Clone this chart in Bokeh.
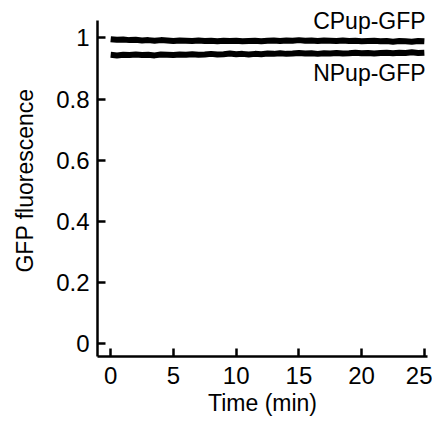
from bokeh.plotting import figure
from bokeh.models import Label, Range1d, FixedTicker
from bokeh.embed import file_html
from bokeh.resources import INLINE

time_min = [0.0, 0.5, 1.0, 1.5, 2.0, 2.5, 3.0, 3.5, 4.0, 4.5, 5.0, 5.5, 6.0, 6.5, 7.0, 7.5,
            8.0, 8.5, 9.0, 9.5, 10.0, 10.5, 11.0, 11.5, 12.0, 12.5, 13.0, 13.5, 14.0, 14.5,
            15.0, 15.5, 16.0, 16.5, 17.0, 17.5, 18.0, 18.5, 19.0, 19.5, 20.0, 20.5, 21.0,
            21.5, 22.0, 22.5, 23.0, 23.5, 24.0, 24.5, 25.0]

cpup_gfp = [0.996, 0.994, 0.995, 0.993, 0.994, 0.992, 0.993, 0.991, 0.993, 0.992, 0.990,
            0.992, 0.991, 0.990, 0.992, 0.990, 0.991, 0.989, 0.991, 0.990, 0.991, 0.989,
            0.990, 0.991, 0.989, 0.991, 0.992, 0.990, 0.992, 0.991, 0.993, 0.991, 0.992,
            0.990, 0.992, 0.991, 0.990, 0.992, 0.990, 0.991, 0.989, 0.990, 0.991, 0.989,
            0.990, 0.988, 0.990, 0.989, 0.988, 0.990, 0.989]

npup_gfp = [0.945, 0.943, 0.945, 0.944, 0.946, 0.944, 0.945, 0.943, 0.946, 0.945, 0.944,
            0.946, 0.945, 0.947, 0.945, 0.946, 0.948, 0.946, 0.947, 0.949, 0.947, 0.948,
            0.946, 0.948, 0.947, 0.949, 0.948, 0.950, 0.948, 0.949, 0.951, 0.949, 0.950,
            0.948, 0.950, 0.949, 0.951, 0.949, 0.950, 0.952, 0.950, 0.951, 0.949, 0.951,
            0.952, 0.950, 0.952, 0.951, 0.953, 0.951, 0.952]

x_ticks = [0, 5, 10, 15, 20, 25]
y_ticks = [0, 0.2, 0.4, 0.6, 0.8, 1]
y_tick_labels = {0: "0", 0.2: "0.2", 0.4: "0.4", 0.6: "0.6", 0.8: "0.8", 1: "1"}

FONT = "Liberation Sans"
TICK_FS = "24px"
LABEL_FS = "23px"

p = figure(width=432, height=418, output_backend="svg", toolbar_location=None,
           x_range=Range1d(-1.05, 25.25), y_range=Range1d(-0.042, 1.1095),
           min_border_left=97, min_border_right=5, min_border_top=4, min_border_bottom=56)

p.outline_line_color = None
p.grid.visible = False
p.background_fill_color = "white"
p.border_fill_color = "white"

p.line(time_min, cpup_gfp, line_color="black", line_width=6)
p.line(time_min, npup_gfp, line_color="black", line_width=6)

for ax in (p.xaxis[0], p.yaxis[0]):
    ax.axis_line_width = 2.5
    ax.axis_line_color = "black"
    ax.major_tick_line_width = 2.5
    ax.major_tick_in = 8
    ax.major_tick_out = 0
    ax.minor_tick_in = 0
    ax.minor_tick_out = 0
    ax.major_label_text_font = FONT
    ax.major_label_text_font_size = TICK_FS
    ax.major_label_text_color = "black"
    ax.axis_label_text_font = FONT
    ax.axis_label_text_font_size = LABEL_FS
    ax.axis_label_text_font_style = "normal"
    ax.axis_label_text_color = "black"

p.yaxis.bounds = (-0.042, 1.058)
p.xaxis.ticker = FixedTicker(ticks=x_ticks)
p.yaxis.ticker = FixedTicker(ticks=y_ticks)
p.yaxis.major_label_overrides = y_tick_labels
p.xaxis.axis_label = "Time (min)"
p.yaxis.axis_label = "GFP fluorescence"
p.xaxis.major_label_standoff = 10
p.yaxis.major_label_standoff = 8
p.xaxis.axis_label_standoff = 3
p.yaxis.axis_label_standoff = 15

p.add_layout(Label(x=25.1, y=1.055, text="CPup-GFP", text_align="right",
                   text_baseline="middle", text_font=FONT, text_font_size=LABEL_FS,
                   text_color="black"))
p.add_layout(Label(x=25.1, y=0.884, text="NPup-GFP", text_align="right",
                   text_baseline="middle", text_font=FONT, text_font_size=LABEL_FS,
                   text_color="black"))

open("out.html", "w").write(file_html(p, INLINE))
